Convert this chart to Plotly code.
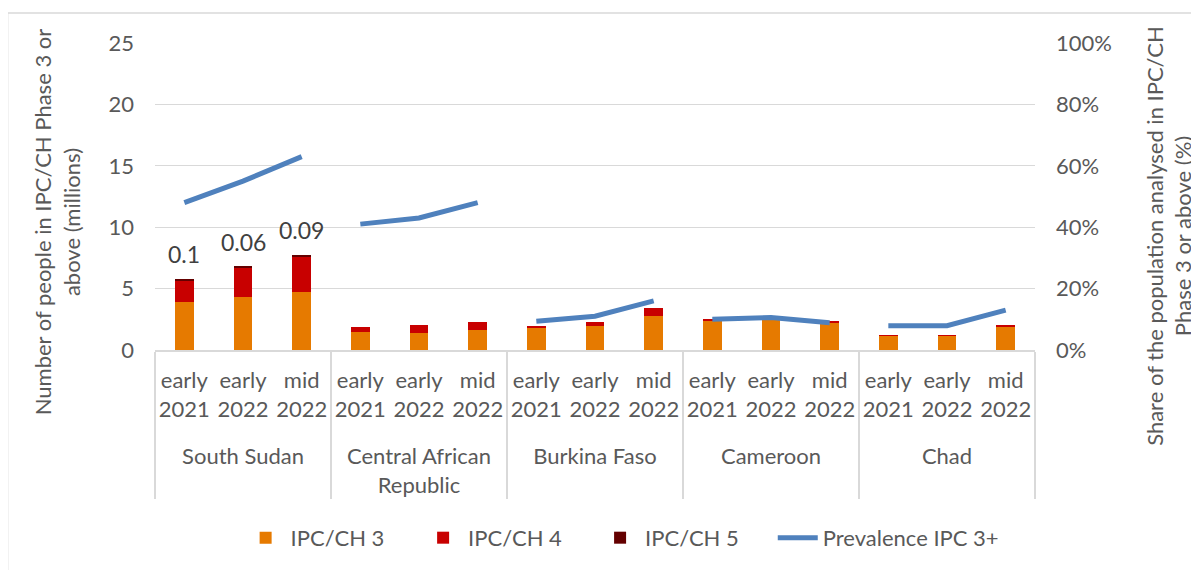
import plotly.graph_objects as go
from plotly.subplots import make_subplots

countries = ["South Sudan", "Central African<br>Republic", "Burkina Faso", "Cameroon", "Chad"]
periods = ["early<br>2021<br> ", "early<br>2022<br> ", "mid<br>2022<br> "]

ipc3 = [3.90, 4.35, 4.75, 1.50, 1.41, 1.63, 1.87, 1.98, 2.77, 2.34, 2.55, 2.20, 1.17, 1.19, 1.93]
ipc4 = [1.75, 2.35, 2.90, 0.35, 0.63, 0.67, 0.10, 0.33, 0.62, 0.20, 0.05, 0.13, 0.03, 0.03, 0.08]
ipc5 = [0.10, 0.06, 0.09, 0.0, 0.0, 0.0, 0.0, 0.0, 0.0, 0.0, 0.0, 0.0, 0.0, 0.0, 0.0]
prevalence = [0.48, 0.55, 0.63, 0.41, 0.43, 0.48, 0.094, 0.11, 0.16, 0.10, 0.106, 0.089, 0.079, 0.079, 0.13]
ipc5_labels = ["0.1", "0.06", "0.09"]

x_outer = [c for c in countries for _ in periods]
x_inner = [p for _ in countries for p in periods]

FONT = "Lato"
GREY = "#595959"
GRID = "#D9D9D9"
FS = 22

fig = make_subplots(specs=[[{"secondary_y": True}]])

for name, vals, col, lg in [("IPC/CH 3", ipc3, "#E67A00", "legend"),
                            ("IPC/CH 4", ipc4, "#C80000", "legend2"),
                            ("IPC/CH 5", ipc5, "#640000", "legend3")]:
    fig.add_trace(go.Bar(x=[x_outer, x_inner], y=vals, name=name, legend=lg,
                         marker=dict(color=col, line=dict(width=0))),
                  secondary_y=False)

n = len(periods)
for i, c in enumerate(countries):
    fig.add_trace(go.Scatter(x=[[c] * n, periods], y=prevalence[i * n:(i + 1) * n],
                             mode="lines", name="Prevalence IPC 3+", legend="legend4",
                             line=dict(color="#4F81BD", width=5),
                             legendgroup="prev", showlegend=(i == 0)),
                  secondary_y=True)

totals = [a + b + c for a, b, c in zip(ipc3, ipc4, ipc5)]
for i, lab in enumerate(ipc5_labels):
    fig.add_annotation(x=i, y=totals[i], text=lab, showarrow=False,
                       yshift=25, xref="x", yref="y",
                       font=dict(family=FONT, size=FS + 1, color="#404040"))

legend_common = dict(orientation="h", y=-0.612, yanchor="middle", xanchor="left",
                     font=dict(family=FONT, size=FS, color=GREY),
                     traceorder="normal", bgcolor="rgba(0,0,0,0)", itemwidth=40)

fig.update_layout(
    template="none",
    width=1191, height=562,
    margin=dict(l=147, r=164, t=35, b=220, autoexpand=False),
    paper_bgcolor="white", plot_bgcolor="white",
    barmode="stack", bargap=0.68,
    font=dict(family=FONT, size=FS, color=GREY),
    legend=dict(x=0.0973, **legend_common),
    legend2=dict(x=0.299, **legend_common),
    legend3=dict(x=0.5001, **legend_common),
    legend4=dict(x=0.702, **legend_common),
    showlegend=True,
)

fig.update_xaxes(type="multicategory", domain=[0, 1], showline=True, linecolor=GRID,
                 linewidth=1.5, showgrid=False, ticks="", showdividers=True,
                 dividercolor=GRID, dividerwidth=1.5, tickangle=0, automargin=False,
                 ticklabelstandoff=10,
                 tickfont=dict(family=FONT, size=FS, color=GREY))
fig.update_yaxes(range=[0, 25], dtick=5, showgrid=True, gridcolor=GRID, gridwidth=1,
                 zeroline=False, showline=False, ticks="", ticklabelstandoff=20,
                 automargin=False,
                 tickfont=dict(family=FONT, size=FS, color=GREY), secondary_y=False)
fig.update_yaxes(range=[0, 1], dtick=0.2, tickformat=".0%", showgrid=False,
                 zeroline=False, showline=False, ticks="", ticklabelstandoff=20,
                 automargin=False,
                 tickfont=dict(family=FONT, size=FS, color=GREY), secondary_y=True)

fig.add_annotation(text="Number of people in IPC/CH Phase 3 or<br>above (millions)",
                   xref="paper", yref="paper", x=-0.111, y=0.417, textangle=-90,
                   showarrow=False, xanchor="center", yanchor="middle",
                   font=dict(family=FONT, size=FS, color=GREY))
fig.add_annotation(text="Share of the population analysed in IPC/CH<br>Phase 3 or above (%)",
                   xref="paper", yref="paper", x=1.152, y=0.371, textangle=-90,
                   showarrow=False, xanchor="center", yanchor="middle",
                   font=dict(family=FONT, size=FS, color=GREY))

fig.add_shape(type="rect", xref="paper", yref="paper",
              x0=-0.1675, x1=1.25, y0=-0.8, y1=1.098,
              line=dict(color=GRID, width=1.5), fillcolor="rgba(0,0,0,0)", layer="below")

fig.write_html("out.html")
